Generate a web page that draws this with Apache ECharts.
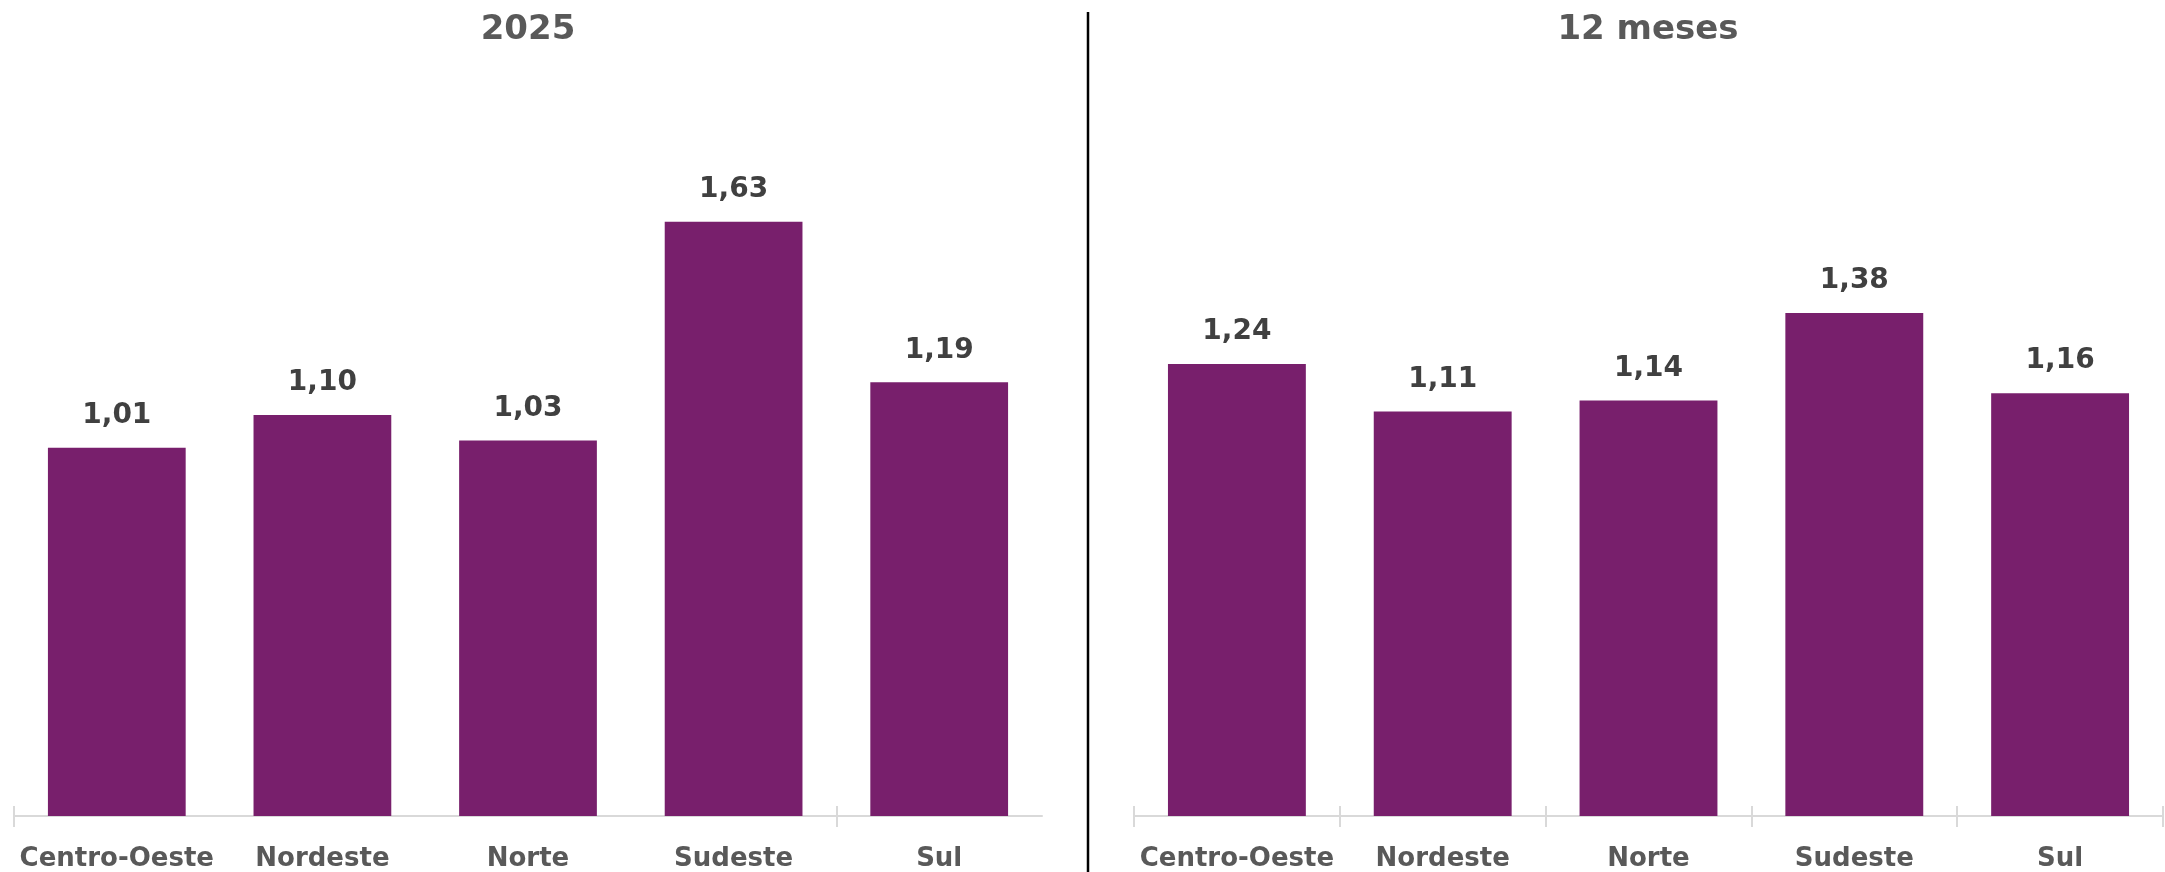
<!DOCTYPE html>
<html>
<head>
<meta charset="utf-8">
<script src="https://cdn.jsdelivr.net/npm/echarts@6/dist/echarts.min.js"></script>
<style>
  html, body { margin: 0; padding: 0; background: #fff; }
  #chart { width: 2165px; height: 872px; }
</style>
</head>
<body>
<div id="chart"></div>
<script>
// dados
var categorias = ['Centro-Oeste', 'Nordeste', 'Norte', 'Sudeste', 'Sul'];
var valores2025 = [1.01, 1.10, 1.03, 1.63, 1.19];
var valores12Meses = [1.24, 1.11, 1.14, 1.38, 1.16];
var titulos = ['2025', '12 meses'];

var roxo = '#781F6C';
var fonte = 'DejaVu Sans';
var cinzaEixo = '#d9d9d9';

function fmt(v) {
    return v.toFixed(2).replace('.', ',');
}

var myChart = echarts.init(document.getElementById('chart'));

// eixo de categorias (ticks para fora) + um segundo eixo só com ticks para dentro
function eixos(gridIndex, comTicks) {
    return [
        {
            type: 'category',
            gridIndex: gridIndex,
            position: 'bottom',
            data: categorias,
            axisLine: { show: true, lineStyle: { color: cinzaEixo, width: 2 } },
            axisTick: { show: comTicks, length: 11, lineStyle: { color: cinzaEixo, width: 2 } },
            axisLabel: {
                interval: 0,
                margin: 30,
                color: '#595959',
                fontFamily: fonte,
                fontWeight: 'bold',
                fontSize: 26
            }
        },
        {
            type: 'category',
            gridIndex: gridIndex,
            position: 'bottom',
            data: categorias,
            axisLine: { show: false },
            axisTick: { show: comTicks, inside: true, length: 10, lineStyle: { color: cinzaEixo, width: 2 } },
            axisLabel: { show: false }
        }
    ];
}

// no gráfico da esquerda só há ticks no início e antes de "Sul"
function ticksEsquerda(inside) {
    return {
        type: 'value',
        gridIndex: 2,
        position: 'bottom',
        min: 0,
        max: 4,
        interval: 4,
        axisLine: { show: false },
        splitLine: { show: false },
        axisLabel: { show: false },
        axisTick: { show: true, inside: inside, length: inside ? 10 : 11, lineStyle: { color: cinzaEixo, width: 2 } }
    };
}

function serie(idx, dados) {
    return {
        type: 'bar',
        xAxisIndex: idx * 2,
        yAxisIndex: idx,
        data: dados,
        barCategoryGap: '33%',
        itemStyle: { color: roxo },
        label: {
            show: true,
            position: 'top',
            distance: 18,
            color: '#404040',
            fontFamily: fonte,
            fontWeight: 'bold',
            fontSize: 28,
            formatter: function (p) { return fmt(p.value); }
        },
        silent: true
    };
}

var option = {
    animation: false,
    grid: [
        { left: 14, width: 1028, top: 87, bottom: 56 },
        { left: 1134, width: 1029, top: 87, bottom: 56 },
        { left: 14, width: 822.4, top: 87, bottom: 56 }
    ],
    xAxis: eixos(0, false).concat(eixos(1, true)).concat([ticksEsquerda(false), ticksEsquerda(true)]),
    yAxis: [
        { type: 'value', gridIndex: 0, min: 0, max: 2, show: false },
        { type: 'value', gridIndex: 1, min: 0, max: 2, show: false },
        { type: 'value', gridIndex: 2, min: 0, max: 2, show: false }
    ],
    series: [
        serie(0, valores2025),
        serie(1, valores12Meses)
    ],
    graphic: [
        {
            type: 'text', x: 528, y: 30,
            style: { text: titulos[0], fill: '#595959', font: 'bold 34px "DejaVu Sans"', textAlign: 'center', textVerticalAlign: 'middle' }
        },
        {
            type: 'text', x: 1648, y: 30,
            style: { text: titulos[1], fill: '#595959', font: 'bold 34px "DejaVu Sans"', textAlign: 'center', textVerticalAlign: 'middle' }
        },
        {
            type: 'line',
            shape: { x1: 1088, y1: 12, x2: 1088, y2: 872 },
            style: { stroke: '#000', lineWidth: 2.5 }
        }
    ]
};

myChart.setOption(option);
</script>
</body>
</html>
